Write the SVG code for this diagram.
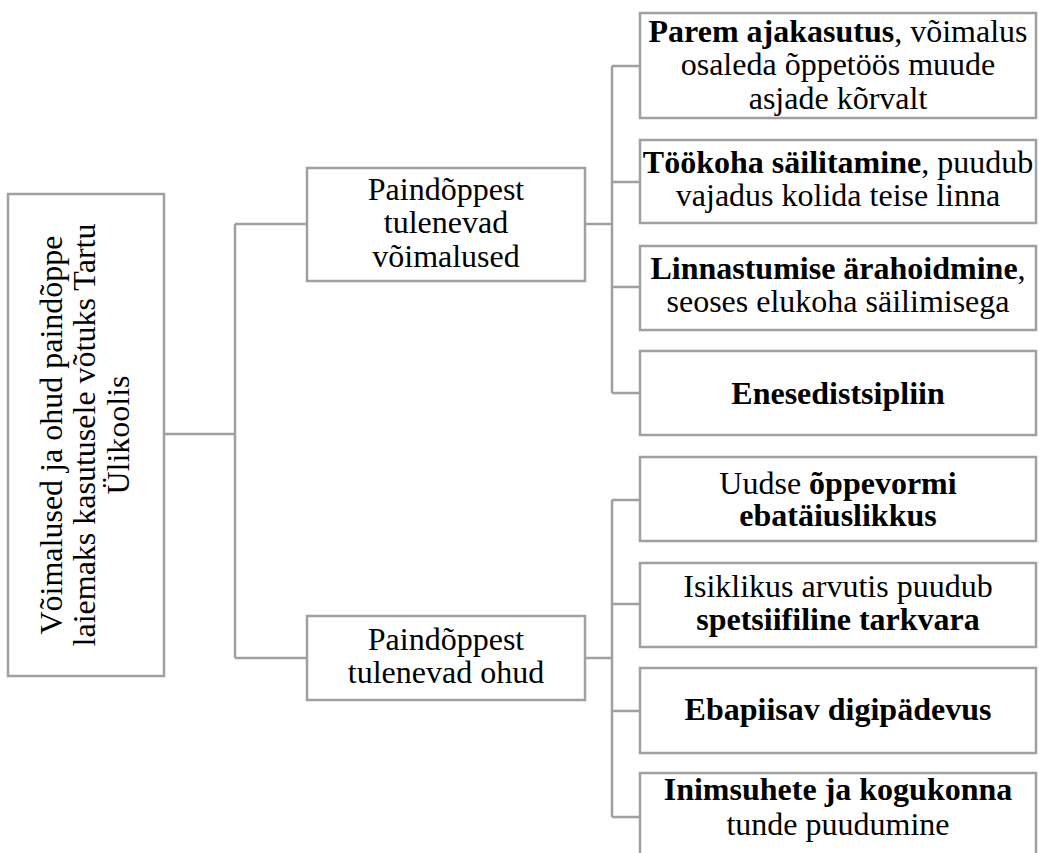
<svg xmlns="http://www.w3.org/2000/svg" width="1039" height="853" viewBox="0 0 1039 853">
<style>
.box{fill:#fff;stroke:#a0a0a0;stroke-width:2.5}
.con{fill:none;stroke:#a0a0a0;stroke-width:2.5}
text{font-family:"Liberation Serif","Times New Roman",serif;font-size:32px;fill:#000;text-anchor:middle}
.b{font-weight:bold}
</style>
<rect width="1039" height="853" fill="#fff"/>
<g id="connectors">
<path class="con" d="M164,434 H235 M235,224 V658 M235,224 H307 M235,658 H307"/>
<path class="con" d="M585,224 H612 M612,66 V393 M612,66 H640 M612,182 H640 M612,287 H640 M612,393 H640"/>
<path class="con" d="M585,658 H612 M612,500 V817 M612,500 H640 M612,604 H640 M612,711 H640 M612,817 H640"/>
</g>
<g id="root">
<rect class="box" x="8" y="194" width="156" height="482"/>
<text transform="translate(62,435) rotate(-90)"><tspan x="0" y="0">Võimalused ja ohud paindõppe</tspan><tspan x="0" y="33.3">laiemaks kasutusele võtuks Tartu</tspan><tspan x="0" y="66.6">Ülikoolis</tspan></text>
</g>
<g id="mid1">
<rect class="box" x="307" y="168" width="278" height="113"/>
<text><tspan x="446" y="200">Paindõppest</tspan><tspan x="446" y="233.3">tulenevad</tspan><tspan x="446" y="266.6">võimalused</tspan></text>
</g>
<g id="mid2">
<rect class="box" x="307" y="616" width="278" height="84"/>
<text><tspan x="446" y="650">Paindõppest</tspan><tspan x="446" y="683">tulenevad ohud</tspan></text>
</g>
<g id="r1">
<rect class="box" x="640" y="13" width="396" height="105"/>
<text><tspan x="838" y="42"><tspan class="b">Parem ajakasutus</tspan>, võimalus</tspan><tspan x="838" y="75.3">osaleda õppetöös muude</tspan><tspan x="838" y="108.6">asjade kõrvalt</tspan></text>
</g>
<g id="r2">
<rect class="box" x="640" y="140" width="396" height="83"/>
<text><tspan x="838" y="173"><tspan class="b">Töökoha säilitamine</tspan>, puudub</tspan><tspan x="838" y="206">vajadus kolida teise linna</tspan></text>
</g>
<g id="r3">
<rect class="box" x="640" y="246" width="396" height="84"/>
<text><tspan x="838" y="278.5" class="b">Linnastumise ärahoidmine</tspan><tspan>,</tspan><tspan x="838" y="311.5">seoses elukoha säilimisega</tspan></text>
</g>
<g id="r4">
<rect class="box" x="640" y="351" width="396" height="84"/>
<text class="b" x="838" y="403.5">Enesedistsipliin</text>
</g>
<g id="r5">
<rect class="box" x="640" y="457" width="396" height="84"/>
<text><tspan x="838" y="493.5">Uudse <tspan class="b">õppevormi</tspan></tspan><tspan x="838" y="526" class="b">ebatäiuslikkus</tspan></text>
</g>
<g id="r6">
<rect class="box" x="640" y="563" width="396" height="84"/>
<text><tspan x="838" y="597">Isiklikus arvutis puudub</tspan><tspan x="838" y="630" class="b">spetsiifiline tarkvara</tspan></text>
</g>
<g id="r7">
<rect class="box" x="640" y="668" width="396" height="85"/>
<text class="b" x="838" y="720">Ebapiisav digipädevus</text>
</g>
<g id="r8">
<rect class="box" x="640" y="773" width="396" height="110"/>
<text><tspan x="838" y="800" class="b">Inimsuhete ja kogukonna</tspan><tspan x="838" y="835">tunde puudumine</tspan></text>
</g>
</svg>
